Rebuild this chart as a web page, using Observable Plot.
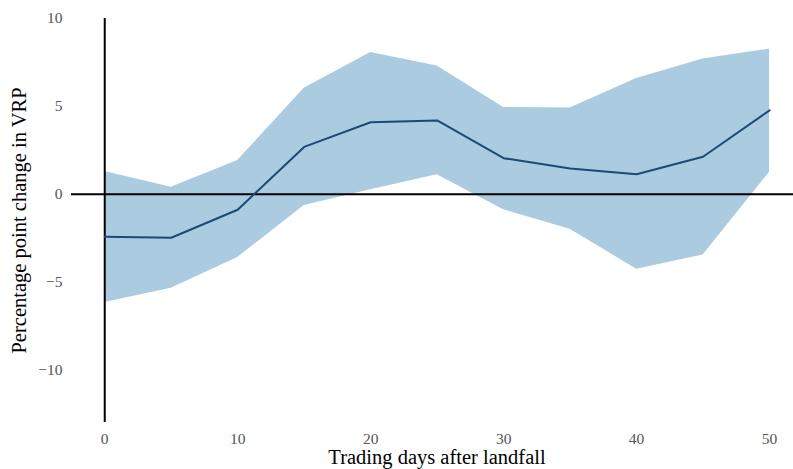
<!DOCTYPE html>
<html>
<head>
<meta charset="utf-8">
<script src="https://cdn.jsdelivr.net/npm/d3@7"></script>
<script src="https://cdn.jsdelivr.net/npm/@observablehq/plot@0.6"></script>
<style>
  body { margin: 0; background: #fff; }
</style>
</head>
<body>
<div id="chart"></div>
<script>
const days = [0, 5, 10, 15, 20, 25, 30, 35, 40, 45, 50];
const estimate = [-2.43, -2.48, -0.89, 2.69, 4.09, 4.2, 2.05, 1.46, 1.13, 2.13, 4.77];
const upper = [1.29, 0.4, 1.91, 6.03, 8.06, 7.29, 4.94, 4.9, 6.58, 7.69, 8.26];
const lower = [-6.17, -5.36, -3.61, -0.64, 0.25, 1.11, -0.89, -2.0, -4.27, -3.47, 1.25];
const xTicks = [0, 10, 20, 30, 40, 50];
const yTicks = [-10, -5, 0, 5, 10];
const xTitle = "Trading days after landfall";
const yTitle = "Percentage point change in VRP";

const data = days.map((d, i) => ({day: d, est: estimate[i], lo: lower[i], hi: upper[i]}));

const chart = Plot.plot({
  width: 793,
  height: 469,
  marginLeft: 71,
  marginRight: 0,
  marginTop: 18,
  marginBottom: 47,
  style: {fontFamily: "'Liberation Serif', 'Times New Roman', serif", background: "#fff"},
  x: {domain: [-2.5, 51.8]},
  y: {domain: [-13, 10]},
  marks: [
    Plot.areaY(data, {x: "day", y1: "lo", y2: "hi", fill: "#abcbe1", fillOpacity: 1}),
    Plot.ruleY([0], {stroke: "#000", strokeWidth: 2}),
    Plot.ruleX([0], {y1: -13, y2: 10, stroke: "#000", strokeWidth: 2}),
    Plot.line(data, {x: "day", y: "est", stroke: "#1d4a72", strokeWidth: 2}),
    Plot.axisX(xTicks, {tickSize: 0, tickPadding: 10, fontSize: 15.5, fill: "#555", label: null}),
    Plot.axisY(yTicks, {tickSize: 0, tickPadding: 9, fontSize: 15.5, fill: "#555", label: null, tickFormat: d => d < 0 ? "\u2212" + Math.abs(d) : String(d)}),
    Plot.text([xTitle], {frameAnchor: "bottom", dy: 35, dx: 4.5, fontSize: 20.5, fill: "#000", lineAnchor: "middle", textAnchor: "middle"}),
    Plot.text([yTitle], {frameAnchor: "left", dx: -52, rotate: -90, fontSize: 20.5, fill: "#000", lineAnchor: "middle", textAnchor: "middle"})
  ]
});
document.getElementById("chart").appendChild(chart);
</script>
</body>
</html>
